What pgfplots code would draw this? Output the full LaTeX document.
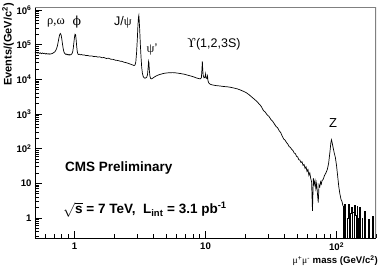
\documentclass[border=0pt]{standalone}
\usepackage{pgfplots}
\pgfplotsset{compat=1.18}
\usepackage{fontspec}
\setmainfont{Liberation Sans}
\setsansfont{Liberation Sans}
\newfontfamily\grk{Liberation Serif}
\newfontfamily\dvs{DejaVu Serif}
\begin{document}
\begin{tikzpicture}
\useasboundingbox (0,0) rectangle (382pt,272pt);
\begin{axis}[
  at={(35pt,34pt)}, anchor=south west,
  scale only axis, width=341pt, height=230.5pt,
  xmode=log, ymode=log,
  xmin=0.5, xmax=200, ymin=0.265, ymax=1.18e6,
  axis lines*=left,
  axis line style={black, line width=0.8pt},
  tick align=inside,
  major tick length=7pt, minor tick length=4pt,
  tick style={black, line width=0.6pt},
  xtick={1,10,100},
  xticklabels={\textbf{1},\textbf{10},\textbf{10\textsuperscript{2}}},
  minor xtick={0.5,0.6,0.7,0.8,0.9,2,3,4,5,6,7,8,9,20,30,40,50,60,70,80,90,200},
  ytick={1,10,100,1000,10000,100000,1000000},
  yticklabels={\textbf{1},\textbf{10},\textbf{10\textsuperscript{2}},\textbf{10\textsuperscript{3}},\textbf{10\textsuperscript{4}},\textbf{10\textsuperscript{5}},\textbf{10\textsuperscript{6}}},
  minor ytick={0.3,0.4,0.5,0.6,0.7,0.8,0.9,2,3,4,5,6,7,8,9,20,30,40,50,60,70,80,90,200,300,400,500,600,700,800,900,2000,3000,4000,5000,6000,7000,8000,9000,20000,30000,40000,50000,60000,70000,80000,90000,200000,300000,400000,500000,600000,700000,800000,900000},
  ticklabel style={font=\fontsize{9.6}{10}\selectfont},
  xticklabel style={yshift=-1pt},
  yticklabel style={xshift=0pt},
]
\addplot[black, line width=0.7pt, sharp plot] coordinates {
(0.50,58000)(0.51,60000)(0.52,57000)(0.53,59000)(0.54,56000)(0.55,58000)(0.56,55000)(0.57,57500)(0.58,55500)(0.59,56500)
(0.60,54000)(0.61,55500)(0.62,53500)(0.63,55000)(0.64,53000)(0.65,54500)(0.66,53500)(0.67,55000)(0.68,56000)(0.69,58000)
(0.70,60000)(0.71,63000)(0.72,68000)(0.73,76000)(0.74,90000)(0.75,115000)(0.76,150000)(0.77,190000)(0.78,210000)(0.79,195000)
(0.80,150000)(0.81,105000)(0.82,78000)(0.83,63000)(0.84,57000)(0.85,54000)(0.86,52500)(0.87,53500)(0.88,51000)(0.89,52500)
(0.90,50500)(0.91,52000)(0.92,50000)(0.93,51500)(0.94,51000)(0.95,53000)(0.96,56000)(0.97,63000)(0.98,80000)(0.99,115000)
(1.00,160000)(1.01,200000)(1.02,195000)(1.03,140000)(1.04,90000)(1.05,65000)(1.06,55000)(1.07,52000)(1.09,53000)(1.11,51000)
(1.13,52000)(1.16,50000)(1.19,50500)(1.22,48500)(1.26,49000)(1.30,47000)(1.35,47500)(1.40,45500)(1.45,46000)(1.50,44000)
(1.56,44500)(1.62,42000)(1.68,42500)(1.75,40000)(1.82,40500)(1.90,38000)(1.98,37500)(2.06,35500)(2.14,35000)(2.22,33500)
(2.30,33000)(2.40,31000)(2.50,30000)(2.60,28500)(2.70,27000)(2.78,26000)(2.85,25000)(2.90,26000)(2.94,32000)(2.98,60000)
(3.02,150000)(3.05,350000)(3.08,620000)(3.10,700000)(3.12,500000)(3.15,250000)(3.18,110000)(3.22,45000)(3.26,22000)(3.30,15000)
(3.35,12000)(3.40,11000)(3.45,10800)(3.50,11000)(3.56,11500)(3.61,13500)(3.65,22000)(3.68,33000)(3.70,30000)(3.73,18000)
(3.77,12000)(3.82,10500)(3.88,10300)(3.95,10800)(4.05,11500)(4.2,12500)(4.4,13500)(4.6,14200)(4.8,14800)(5.0,15200)
(5.3,15500)(5.6,15600)(5.9,15400)(6.2,15000)(6.5,14600)(6.9,14000)(7.3,13200)(7.7,12500)(8.1,11800)(8.5,11000)
(8.8,10600)(9.1,10300)(9.3,11000)(9.40,20000)(9.46,33000)(9.52,20000)(9.60,13000)(9.75,11000)(9.90,11500)(10.02,14500)
(10.10,11000)(10.25,10500)(10.36,12500)(10.45,9000)(10.60,7800)(10.8,7300)(11.1,7000)(11.5,6800)(12.0,6600)(12.5,6500)
(13.0,6400)(13.8,6200)(14.6,6100)(15.5,5900)(16.5,5600)(17.5,5300)(18.5,4900)(19.5,4500)(20.5,4100)(21.5,3600)
(22.5,3100)(23.5,2700)(24.5,2350)(25.5,2000)(26.5,1700)(27.7,1250)(28.5,1150)(29.5,950)(30.5,850)(31.5,700)
(32.5,620)(33.5,520)(34.5,440)(35.5,400)(36.5,330)(37.5,290)(38.5,230)(39.5,190)(40.5,175)(41.5,150)
(42.5,135)(43.5,115)(44.5,108)(45.5,95)(46.5,88)(47.5,75)(48.5,72)(49.5,60)(50.5,58)(51.5,48)
(52.5,47)(53.5,40)(54.5,42)(55.5,33)(56.5,35)(57.5,27)(58.5,30)(59.5,22)(60.5,25)(61.5,17)
(62.5,20)(63.5,14)(64.5,11)(65.5,1.6)(66.5,14)(67.5,9)(68.5,12)(69.5,7)(70.5,10)(71.5,5)
(72.5,2.8)(73.5,9)(74.5,8)(75.5,11)(76.5,9.5)(77.5,12)(79,13)(81,17)(83,20)(85,25)
(87,38)(89,80)(90.5,150)(91.5,180)(92.5,150)(94,110)(96,75)(98,55)(100,32)(102,16)
(104,8)(106,5)(108,3.5)(110,3)(112,2.2)
};
\addplot[black, line width=0.7pt, const plot] coordinates {
(112,2.2)(113,0.01)(115,2.4)(117,0.01)(121,1.0)(123,2.5)(125,0.01)(127,1.4)(129,2.0)(131,0.01)
(133,1.5)(136,0.01)(137,2.3)(139,1.2)(141,0.01)(143,2.2)(145,1.0)(147,0.01)(150,2.0)(152,0.01)
(156,1.0)(158,0.01)(164,1.6)(167,0.01)(176,0.9)(179,0.01)(188,1.1)(191,0.01)(200,0.01)
};
\draw[gray, line width=1.4pt] (rel axis cs:0,1) -- (rel axis cs:1,1) -- (rel axis cs:1,0);
\end{axis}
% axis titles
\node[rotate=90, anchor=south east, inner sep=0pt] at (14pt,269pt) {\fontsize{11}{12}\selectfont\bfseries Events/(GeV/c\textsuperscript{2})};
\node[anchor=base east, inner sep=0pt] at (378pt,8pt) {\fontsize{9.6}{10}\selectfont{\grk μ}\textsuperscript{+}{\grk μ}\textsuperscript{-} \textbf{mass (GeV/c\textsuperscript{2})}};
% peak labels
\node[inner sep=0pt] at (56pt,249pt) {\fontsize{12.5}{13}\selectfont\grk ρ,ω};
\node[inner sep=0pt] at (77pt,250pt) {\fontsize{12.5}{13}\selectfont\dvs ϕ};
\node[inner sep=0pt] at (123pt,250pt) {\fontsize{12.5}{13}\selectfont J/{\grk ψ}};
\node[inner sep=0pt] at (152pt,222pt) {\fontsize{12.5}{13}\selectfont{\grk ψ}'};
\node[inner sep=0pt] at (214pt,228pt) {\fontsize{12.5}{13}\selectfont{\dvs ϒ}(1,2,3S)};
\node[inner sep=0pt] at (333pt,148.5pt) {\fontsize{13}{14}\selectfont Z};
% annotations
\node[anchor=west, inner sep=0pt] at (65pt,103.5pt) {\fontsize{13.5}{14}\selectfont\bfseries CMS Preliminary};
\node[anchor=base west, inner sep=0pt] at (63pt,58pt) {\fontsize{13.5}{14}\selectfont\bfseries $\sqrt{\mbox{s}}$ = 7 TeV,\ \ L\textsubscript{int} = 3.1 pb\textsuperscript{-1}};
\end{tikzpicture}
\end{document}
